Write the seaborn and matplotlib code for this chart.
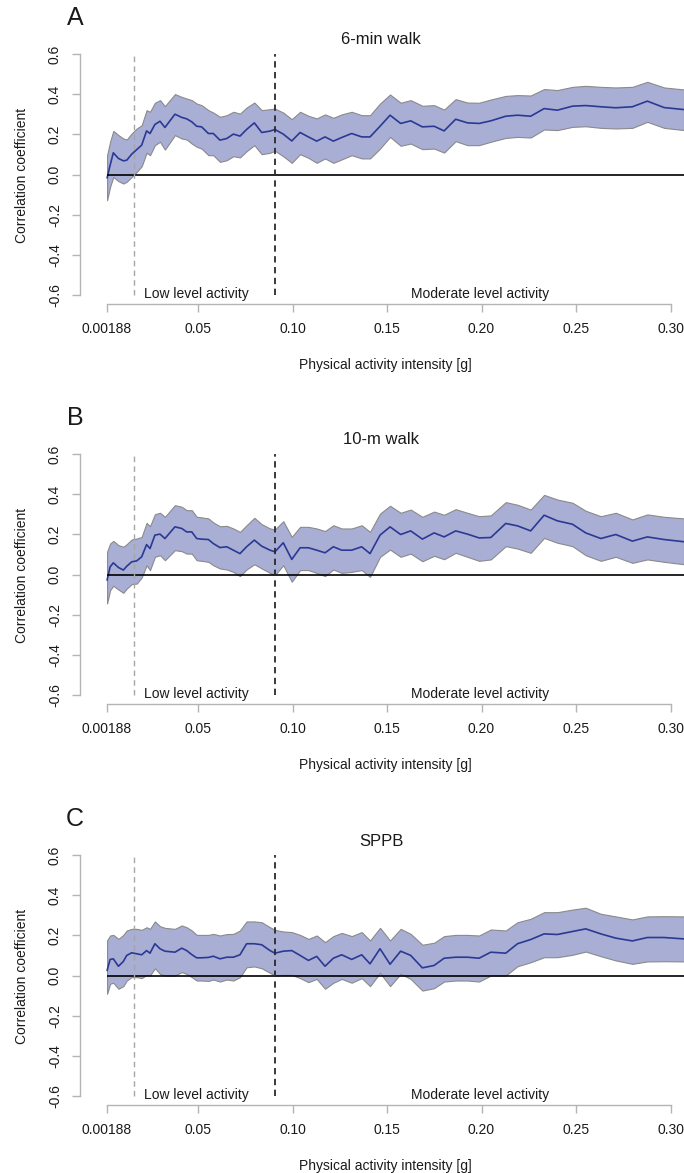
import numpy as np
import matplotlib
matplotlib.use("Agg")
import matplotlib.pyplot as plt
import seaborn as sns

# ---------------- data ----------------
intensity = [0.0019, 0.0035, 0.0052, 0.0079, 0.0105, 0.0123, 0.0149, 0.0176, 0.0202, 0.0228,
             0.0246, 0.0272, 0.0299, 0.0325, 0.0378, 0.0414, 0.0440, 0.0467, 0.0493, 0.0519,
             0.0555, 0.0581, 0.0616, 0.0652, 0.0687, 0.0722, 0.0757, 0.0798, 0.0837, 0.0881,
             0.0907, 0.0951, 0.0996, 0.1040, 0.1084, 0.1128, 0.1172, 0.1216, 0.1260, 0.1313,
             0.1366, 0.1410, 0.1463, 0.1516, 0.1572, 0.1625, 0.1687, 0.1749, 0.1802, 0.1863,
             0.1925, 0.1987, 0.2049, 0.2128, 0.2190, 0.2260, 0.2331, 0.2401, 0.2481, 0.2551,
             0.2631, 0.2710, 0.2798, 0.2877, 0.2966, 0.3071]

walk6_mean = [-0.017, 0.046, 0.108, 0.080, 0.068, 0.071, 0.101, 0.124, 0.146, 0.217,
              0.204, 0.249, 0.265, 0.234, 0.300, 0.284, 0.277, 0.262, 0.240, 0.237,
              0.204, 0.204, 0.171, 0.179, 0.201, 0.191, 0.224, 0.257, 0.209, 0.216,
              0.224, 0.201, 0.167, 0.209, 0.187, 0.166, 0.187, 0.166, 0.184, 0.204,
              0.187, 0.187, 0.240, 0.295, 0.254, 0.267, 0.237, 0.240, 0.217, 0.275,
              0.257, 0.254, 0.267, 0.290, 0.295, 0.290, 0.328, 0.320, 0.340, 0.343,
              0.337, 0.332, 0.337, 0.365, 0.333, 0.323]
walk6_upper = [0.096, 0.163, 0.217, 0.196, 0.179, 0.174, 0.204, 0.229, 0.245, 0.320,
               0.312, 0.357, 0.370, 0.340, 0.400, 0.386, 0.378, 0.370, 0.353, 0.345,
               0.320, 0.308, 0.287, 0.295, 0.312, 0.303, 0.333, 0.358, 0.320, 0.325,
               0.328, 0.308, 0.275, 0.312, 0.292, 0.279, 0.299, 0.282, 0.299, 0.312,
               0.295, 0.295, 0.353, 0.398, 0.357, 0.370, 0.342, 0.345, 0.323, 0.375,
               0.358, 0.357, 0.373, 0.391, 0.395, 0.393, 0.425, 0.420, 0.436, 0.441,
               0.436, 0.433, 0.436, 0.461, 0.433, 0.423]
walk6_lower = [-0.128, -0.061, -0.012, -0.033, -0.045, -0.036, -0.012, 0.013, 0.041, 0.108,
               0.096, 0.146, 0.163, 0.124, 0.196, 0.179, 0.174, 0.154, 0.138, 0.129,
               0.096, 0.096, 0.063, 0.071, 0.091, 0.085, 0.116, 0.146, 0.101, 0.108,
               0.118, 0.091, 0.058, 0.101, 0.083, 0.058, 0.080, 0.058, 0.075, 0.096,
               0.080, 0.080, 0.129, 0.187, 0.143, 0.154, 0.126, 0.129, 0.109, 0.166,
               0.146, 0.146, 0.163, 0.182, 0.187, 0.184, 0.224, 0.221, 0.237, 0.240,
               0.232, 0.229, 0.232, 0.262, 0.232, 0.221]

walk10_mean = [-0.028, 0.038, 0.058, 0.035, 0.022, 0.041, 0.063, 0.068, 0.088, 0.149,
               0.129, 0.196, 0.201, 0.179, 0.237, 0.229, 0.212, 0.212, 0.179, 0.176,
               0.174, 0.154, 0.134, 0.138, 0.121, 0.104, 0.138, 0.171, 0.141, 0.121,
               0.113, 0.158, 0.075, 0.133, 0.133, 0.121, 0.108, 0.138, 0.121, 0.121,
               0.138, 0.104, 0.196, 0.237, 0.199, 0.217, 0.176, 0.207, 0.187, 0.217,
               0.201, 0.182, 0.184, 0.254, 0.242, 0.217, 0.295, 0.267, 0.250, 0.207,
               0.179, 0.199, 0.166, 0.187, 0.174, 0.163]
walk10_upper = [0.113, 0.154, 0.167, 0.146, 0.138, 0.151, 0.174, 0.179, 0.187, 0.257,
                0.240, 0.300, 0.307, 0.287, 0.345, 0.337, 0.320, 0.320, 0.287, 0.284,
                0.279, 0.259, 0.240, 0.242, 0.229, 0.212, 0.245, 0.282, 0.250, 0.229,
                0.224, 0.265, 0.187, 0.237, 0.237, 0.229, 0.216, 0.245, 0.229, 0.229,
                0.245, 0.212, 0.303, 0.342, 0.307, 0.323, 0.287, 0.313, 0.297, 0.325,
                0.307, 0.290, 0.294, 0.360, 0.347, 0.323, 0.396, 0.373, 0.357, 0.317,
                0.290, 0.307, 0.274, 0.299, 0.287, 0.279]
walk10_lower = [-0.144, -0.078, -0.056, -0.075, -0.091, -0.070, -0.048, -0.045, -0.015, 0.046,
                0.022, 0.088, 0.096, 0.071, 0.121, 0.116, 0.104, 0.104, 0.071, 0.068,
                0.063, 0.046, 0.030, 0.025, 0.013, -0.008, 0.025, 0.051, 0.030, 0.008,
                -0.003, 0.046, -0.036, 0.022, 0.022, 0.008, -0.008, 0.025, 0.008, 0.013,
                0.022, -0.012, 0.088, 0.124, 0.088, 0.104, 0.066, 0.093, 0.076, 0.108,
                0.088, 0.068, 0.075, 0.141, 0.129, 0.108, 0.182, 0.158, 0.141, 0.096,
                0.068, 0.088, 0.058, 0.075, 0.063, 0.051]

sppb_mean = [0.025, 0.080, 0.083, 0.046, 0.070, 0.100, 0.113, 0.108, 0.103, 0.124,
             0.111, 0.158, 0.133, 0.121, 0.116, 0.136, 0.124, 0.104, 0.088, 0.088,
             0.090, 0.096, 0.083, 0.091, 0.091, 0.103, 0.158, 0.158, 0.153, 0.124,
             0.111, 0.121, 0.124, 0.100, 0.075, 0.095, 0.046, 0.086, 0.103, 0.080,
             0.103, 0.058, 0.133, 0.056, 0.121, 0.100, 0.038, 0.050, 0.086, 0.091,
             0.091, 0.086, 0.116, 0.111, 0.158, 0.179, 0.207, 0.204, 0.219, 0.232,
             0.207, 0.186, 0.172, 0.189, 0.189, 0.182]
sppb_upper = [0.174, 0.199, 0.202, 0.182, 0.202, 0.224, 0.232, 0.232, 0.227, 0.240,
              0.232, 0.269, 0.245, 0.237, 0.232, 0.249, 0.240, 0.224, 0.202, 0.202,
              0.202, 0.207, 0.199, 0.206, 0.207, 0.224, 0.269, 0.269, 0.265, 0.240,
              0.227, 0.219, 0.216, 0.202, 0.182, 0.199, 0.166, 0.196, 0.212, 0.196,
              0.216, 0.174, 0.237, 0.174, 0.232, 0.207, 0.153, 0.163, 0.196, 0.202,
              0.202, 0.199, 0.229, 0.224, 0.265, 0.282, 0.315, 0.315, 0.328, 0.337,
              0.307, 0.294, 0.279, 0.294, 0.295, 0.294]
sppb_lower = [-0.091, -0.041, -0.036, -0.066, -0.053, -0.025, -0.008, -0.008, -0.013, 0.003,
              0.000, 0.036, 0.008, 0.000, 0.000, 0.017, 0.008, -0.008, -0.025, -0.025,
              -0.027, -0.020, -0.030, -0.020, -0.025, -0.008, 0.041, 0.045, 0.036, 0.013,
              0.000, 0.003, 0.003, -0.013, -0.033, -0.017, -0.066, -0.036, -0.017, -0.036,
              -0.013, -0.053, 0.013, -0.053, 0.008, -0.017, -0.075, -0.063, -0.030, -0.025,
              -0.025, -0.030, 0.000, 0.000, 0.046, 0.066, 0.091, 0.091, 0.103, 0.119,
              0.096, 0.075, 0.058, 0.070, 0.071, 0.070]

panel_letters = ["A", "B", "C"]
panel_titles = ["6-min walk", "10-m walk", "SPPB"]
x_ticks = [0.00188, 0.05, 0.10, 0.15, 0.20, 0.25, 0.30]
x_tick_labels = ["0.00188", "0.05", "0.10", "0.15", "0.20", "0.25", "0.30"]
y_ticks = [-0.6, -0.4, -0.2, 0.0, 0.2, 0.4, 0.6]
y_tick_labels = ["-0.6", "-0.4", "-0.2", "0.0", "0.2", "0.4", "0.6"]
low_cut = 0.0163
moderate_cut = 0.0907

series = [(walk6_mean, walk6_lower, walk6_upper),
          (walk10_mean, walk10_lower, walk10_upper),
          (sppb_mean, sppb_lower, sppb_upper)]

# ---------------- style ----------------
sns.set_style("white")
plt.rcParams["font.family"] = ["Liberation Sans", "DejaVu Sans"]

W, H = 684, 1173
fig = plt.figure(figsize=(W / 100, H / 100), dpi=100)

FILL = "#a9aed5"
LINE = "#2b3994"
AXC = "#b4b4b4"
TXT = "#1a1a1a"

offsets = [0, 400, 801]
for i, oy in enumerate(offsets):
    top_px, bot_px = 50 + oy, 304 + oy
    ax = fig.add_axes([80 / W, 1 - bot_px / H, 604 / W, (bot_px - top_px) / H])
    ax.set_xlim(-0.01243, 0.3071)
    ax.set_ylim(-(304 - 174.5) / 201, (174.5 - 50) / 201)
    m, lo, up = series[i]

    ax.fill_between(intensity, lo, up, facecolor=FILL, edgecolor="#8a8a8a",
                    linewidth=0.8, zorder=2)
    sns.lineplot(x=intensity, y=m, ax=ax, color=LINE, linewidth=1.2, zorder=3)
    ax.hlines(0, intensity[0], 0.3071, color="black", linewidth=1.2, zorder=4)
    ax.vlines(low_cut, -0.6, 0.6, color="#a5a5a5", linewidth=1.0,
              linestyles=(0, (4, 3)), zorder=4)
    ax.vlines(moderate_cut, -0.6, 0.6, color="#2a2a2a", linewidth=1.3,
              linestyles=(0, (3.5, 2.5)), zorder=4)

    for side in ["top", "right"]:
        ax.spines[side].set_visible(False)
    ax.spines["left"].set_bounds(-0.6, 0.6)
    ax.spines["bottom"].set_bounds(x_ticks[0], x_ticks[-1])
    for side in ["left", "bottom"]:
        ax.spines[side].set_color(AXC)
        ax.spines[side].set_linewidth(1.0)

    ax.set_xticks(x_ticks, x_tick_labels)
    ax.set_yticks(y_ticks, y_tick_labels)
    ax.tick_params(axis="both", length=6, width=1.0, color=AXC, labelsize=10,
                   labelcolor=TXT, pad=7, direction="out")
    ax.tick_params(axis="both", bottom=True, left=True)
    for lbl in ax.get_yticklabels():
        lbl.set_rotation(90)
        lbl.set_va("center")
        lbl.set_ha("right")
    ax.set_xlabel("")
    ax.set_ylabel("")

    ax.text(0.049, -0.595, "Low level activity", ha="center", va="center",
            fontsize=10, color=TXT)
    ax.text(0.199, -0.595, "Moderate level activity", ha="center", va="center",
            fontsize=10, color=TXT)

    fig.text(75 / W, 1 - (18 + oy) / H, panel_letters[i], fontsize=18,
             ha="center", va="center", color=TXT)
    fig.text(381 / W, 1 - (40 + oy) / H, panel_titles[i], fontsize=12,
             ha="center", va="center", color=TXT)
    fig.text(22 / W, 1 - (175 + oy) / H, "Correlation coefficient", fontsize=10,
             rotation=90, ha="center", va="center", color=TXT)
    fig.text(385 / W, 1 - (365 + oy) / H, "Physical activity intensity [g]",
             fontsize=10, ha="center", va="center", color=TXT)

fig.savefig("out.png", dpi=100)
